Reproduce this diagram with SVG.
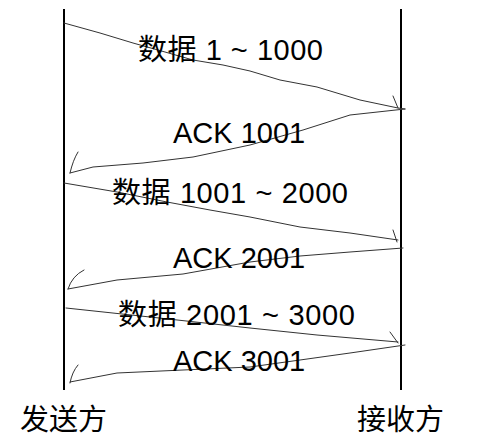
<svg xmlns="http://www.w3.org/2000/svg" width="480" height="447" viewBox="0 0 480 447">
<style>
.life{stroke:#000;stroke-width:2;fill:none}
.msg{stroke:#333;stroke-width:1;fill:none;stroke-linejoin:round;stroke-linecap:round}
.lbl{font-family:"Liberation Sans","Noto Sans CJK SC",sans-serif;font-size:29px;fill:#000}
.cjk{font-family:"Noto Sans CJK SC",sans-serif;font-size:29px;fill:#000}
</style>
<rect width="480" height="447" fill="#fff"/>
<g id="sender">
<line class="life" x1="64" y1="9" x2="64" y2="390"/>
<text class="cjk" x="20" y="430">发送方</text>
</g>
<g id="receiver">
<line class="life" x1="401" y1="9" x2="401" y2="390"/>
<text class="cjk" x="357" y="430">接收方</text>
</g>
<g id="connectors">
<polyline class="msg" points="64,23 100,33 133,43 165,52 193,60 223,65 250,71 280,80 317,87 360,100 398,108 405,109"/>
<path class="msg" d="M393,96 L398,108"/>
<polyline class="msg" points="405,109 350,115 303,130 250,145 193,157 143,163 93,167 70,173"/>
<path class="msg" d="M70,173 Q73,160 78,152"/>
<polyline class="msg" points="64,183 117,192 167,202 210,210 250,217 300,227 350,233 398,240"/>
<path class="msg" d="M393,230 L397,242"/>
<polyline class="msg" points="403,248 350,252 300,256 250,262 183,274 117,280 68,289"/>
<path class="msg" d="M68,289 Q72,276 84,270"/>
<polyline class="msg" points="66,308 150,317 250,328 317,335 398,342"/>
<path class="msg" d="M390,332 L398,343"/>
<polyline class="msg" points="405,345 350,353 300,360 250,367 183,370 117,373 70,382"/>
<path class="msg" d="M70,383 Q72,372 78,365"/>
</g>
<g id="labels">
<text class="lbl" x="138" y="60" textLength="185" lengthAdjust="spacing">数据 1 ~ 1000</text>
<text class="lbl" x="173" y="143">ACK 1001</text>
<text class="lbl" x="112" y="203" textLength="236" lengthAdjust="spacing">数据 1001 ~ 2000</text>
<text class="lbl" x="173" y="268">ACK 2001</text>
<text class="lbl" x="118" y="325" textLength="237" lengthAdjust="spacing">数据 2001 ~ 3000</text>
<text class="lbl" x="173" y="371">ACK 3001</text>
</g>
</svg>
